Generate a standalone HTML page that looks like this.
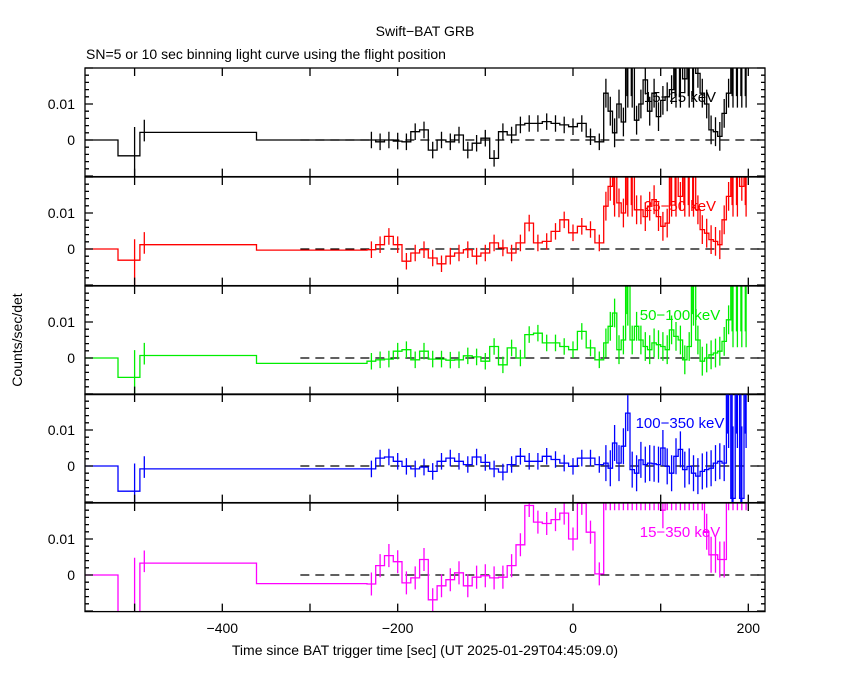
<!DOCTYPE html>
<html><head><meta charset="utf-8"><style>
body{margin:0;background:#fff}
svg{display:block;font-family:"Liberation Sans",sans-serif}
</style></head><body>
<svg id="chart" width="850" height="680">
<text x="425" y="36" font-size="14" text-anchor="middle">Swift−BAT GRB</text>
<text x="86" y="59" font-size="14">SN=5 or 10 sec binning light curve using the flight position</text>
<text transform="translate(22,340) rotate(-90)" font-size="14" text-anchor="middle">Counts/sec/det</text>
<text x="425" y="655" font-size="14" text-anchor="middle">Time since BAT trigger time [sec] (UT 2025-01-29T04:45:09.0)</text>
</svg>
<script>
const bandLabels=["15−25 keV","25−50 keV","50−100 keV","100−350 keV","15−350 keV"];
const bandColors=["#000","#f00","#0e0","#00f","#f0f"];
const xTicks=[-400,-200,0,200];
const yTickLabels=["0.01","0"];
const earlyEdges=[-557,-519,-494,-361,-235];
const early1=[0,-4.4,2.1,0];
const early2=[0,-3.1,1.2,-0.3];
const early3=[0,-5.4,0.7,-1.5];
const early4=[0,-7,-0.8,-0.8];
const early5=[0,-12,3.3,-2.4];
const mid1=[0,-0.5,0,-0.3,-0.5,2.3,2.8,-2.8,0,-0.5,1.4,-2.8,-0.9,0.5,-5.1,2.3,1.4,4.2,4.6,4.6,5.1,4.6,4.2,3.7,4.6,0.9,-0.5];
const mid2=[-0.2,1.2,3.5,1.2,-3.4,-1.1,-0.2,-2.5,-4.1,-2.0,-1.1,-0.2,-2.0,-1.1,1.7,0.3,-1.1,1.7,7.2,1.7,2.1,4.9,8.1,4.5,6.3,5.4,1.7];
const mid3=[-0.9,-0.5,-0.3,1.9,2.3,-0.5,1.9,-0.3,-0.3,-0.6,-0.5,0.6,0.3,-0.9,3.2,-1.9,2.8,0,6.5,6.9,4.2,4.2,3.2,2.3,7.4,2.8,-0.5];
const mid4=[-0.8,2.2,2.5,1.3,-0.1,-0.8,-0.3,-1.5,1.3,2.2,1.3,0.4,2.5,1.0,-0.8,-1.7,0.4,2.7,1.3,1.3,2.7,1.8,0.8,-0.1,2.2,2.2,0.4];
const mid5=[-2.5,2.6,5.4,3.7,-2.2,-0.8,4.3,-6.9,-3.0,-1.3,0.6,-3.0,-0.6,-0.2,-0.8,-0.6,2.6,8.4,19.3,14.7,14.3,15.4,17.2,10.0,19.9,11.9,0.3];
const burst1=[13,8,2,10,5,25,25,5.5,10,16.7,8,13,6.5,11,12,14,25,25,17,25,25,18.5,13,10,2.8,2.3,1,7.4,13,25,25,25,25];
const burst2=[11.9,17.4,25,12.8,10,25,25,10.9,10.9,9,11.9,13.7,9,6.3,7.2,25,25,14.6,25,25,25,10.9,5.4,4.4,2.6,2.1,1.2,8.1,14.6,25,25,17.4,25];
const burst3=[4.2,8.8,12.5,2.3,5,25,5,8.8,5,3.2,2.3,4.2,3.7,3.2,2.3,7.8,6,5,-0.5,3.2,25,5,-0.9,0,0.9,1.4,1.9,4.6,10.6,25,25,25,25];
const burst4=[0.8,-0.6,6.4,0.8,5.5,14.7,-1,-2,1.7,0.4,0.8,0.6,0.4,5,-0.1,-2,2.7,4.6,-1,-0.1,-2,-2.8,-1.5,-1,-0.6,0.8,1.3,0.8,25,-9,25,-9,25];
const burst5=[25,25,25,25,25,25,25,25,25,25,25,25,25,18,25,25,25,25,25,25,25,25,25,12,5.6,5.6,4.3,4.3,25,25,25,25,25];
const earlyVals=[early1,early2,early3,early4,early5];
const midVals=[mid1,mid2,mid3,mid4,mid5];
const burstVals=[burst1,burst2,burst3,burst4,burst5];
const midErr=[2.3,2.3,2.3,2.3,3.2];
const burstErr=[4,4,4,5,5];

const NS="http://www.w3.org/2000/svg";
const svg=document.getElementById('chart');
const X0=85,X1=765,tops=[68,177,286,394,503],PH=108.6;
const xs=t=>573+0.8767*t;
function mk(tag,attrs,parent){const e=document.createElementNS(NS,tag);for(const k in attrs)e.setAttribute(k,attrs[k]);(parent||svg).appendChild(e);return e;}

for(let p=0;p<5;p++){
  const top=tops[p],bot=top+PH;
  const ys=v=>top+72-v*3.6;
  const g=mk('g',{});
  
  
  const cid='clip'+p;
  const cp=mk('clipPath',{id:cid},g);mk('rect',{x:X0,y:top,width:X1-X0,height:PH},cp);
  const dg=mk('g',{'clip-path':'url(#'+cid+')'},g);
  const dz=mk('line',{x1:xs(-311),x2:X1,y1:ys(0),y2:ys(0),stroke:'#000','stroke-width':1.3,'stroke-dasharray':'9,6'},dg);
  
  
  const edges=[...earlyEdges];const vals=[...earlyVals[p]];const errs=[0,0,0,0];
  for(let i=0;i<midVals[p].length;i++){edges.push(-235+10*(i+1));vals.push(midVals[p][i]);errs.push(midErr[p]);}
  const bw=165/burstVals[p].length;
  for(let i=0;i<burstVals[p].length;i++){
    edges.push(35+bw*(i+1));
    const v=burstVals[p][i];vals.push(v);
    let er=burstErr[p];
    if(v>=20) er=(p==4?7:16);
    if(p==3&&i>27) er=20;
    if(p==2&&i>28) er=22;
    errs.push(er);
  }
  let d='';
  for(let i=0;i<vals.length;i++){
    const y=ys(vals[i]).toFixed(1);
    d+=(i==0?'M'+xs(edges[0]).toFixed(1)+','+y:'V'+y)+'H'+xs(edges[i+1]).toFixed(1);
  }
  const path=mk('path',{d:d,fill:'none',stroke:bandColors[p],'stroke-width':1.3},dg);
  
  
  let e='';
  for(let i=0;i<vals.length;i++){
    if(!errs[i])continue;
    const xc=xs((edges[i]+edges[i+1])/2).toFixed(1);
    e+='M'+xc+','+ys(vals[i]+errs[i]).toFixed(1)+'V'+ys(vals[i]-errs[i]).toFixed(1);
    if(p!=4&&(vals[i]>=20||errs[i]>=16)){
      const xa=xs(edges[i]+1.5).toFixed(1);
      e+='M'+xa+','+top+'V'+ys(vals[i]-errs[i]*0.8).toFixed(1);
    }
  }
  e+='M'+xs(-500).toFixed(1)+','+ys(vals[2]+1.5).toFixed(1)+'V'+(bot+2);
  e+='M'+xs(-489).toFixed(1)+','+ys(vals[2]+3.5).toFixed(1)+'V'+ys(vals[2]-2.5).toFixed(1);
  const ep=mk('path',{d:e,fill:'none',stroke:bandColors[p],'stroke-width':1.3},dg);
  
  
  const fr=mk('rect',{x:X0,y:top,width:X1-X0,height:PH,fill:'none',stroke:'#000','stroke-width':1.3},g);
  
  
  let tk='';
  for(let v=-10;v<=20;v+=2){const y=ys(v);if(y<top||y>bot)continue;const L=(v%10==0)?8:4;tk+='M'+X0+','+y.toFixed(1)+'h'+L+'M'+X1+','+y.toFixed(1)+'h'+(-L);}
  for(const t of [-500,-400,-300,-200,-100,0,100,200]){const x=xs(t).toFixed(1);tk+='M'+x+','+top+'v8M'+x+','+bot+'v-8';}
  mk('path',{d:tk,stroke:'#000','stroke-width':1.3,fill:'none'},g);
  yTickLabels.forEach((lab,i)=>{
    const t=mk('text',{x:75,y:ys(i==0?10:0)+5,'font-size':14,'text-anchor':'end'},g);t.textContent=lab;
    
    
  });
  const bl=mk('text',{x:680,y:top+34,'font-size':15,'text-anchor':'middle',fill:bandColors[p]},g);
  bl.textContent=bandLabels[p];
  
  
}
xTicks.forEach(t=>{
  const tx=mk('text',{x:xs(t),y:633,'font-size':14,'text-anchor':'middle'});
  tx.textContent=(t<0?'−'+(-t):''+t);
  
  
});
</script>
</body></html>
